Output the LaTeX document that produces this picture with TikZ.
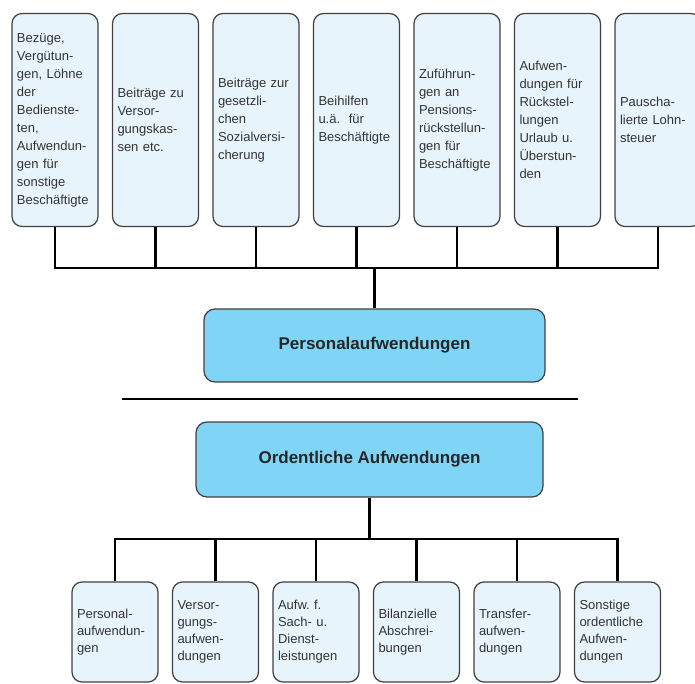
\documentclass[tikz,border=0pt]{standalone}
\usepackage{fontspec}
\setmainfont{Liberation Sans}
\usetikzlibrary{matrix}
\definecolor{boxblue}{HTML}{E8F4FC}
\definecolor{mainblue}{HTML}{80D4F6}
\frenchspacing

\begin{document}
\begin{tikzpicture}[x=1pt,y=-1pt]

\tikzset{box matrix/.style={
    matrix of nodes,
    column sep=13.3pt,
    nodes={draw=black!75,
      fill=boxblue,
      line width=1.2pt,
      rounded corners=10pt,
      minimum height=#1,
      anchor=center,
      text width=76pt,
      align=left,
      inner xsep=5pt,
      inner ysep=0pt,
      text=black!80,
      font=\fontsize{13}{18}\selectfont
    },
  },
  box matrix/.default=213pt,
  main box/.style={draw=black!75, fill=mainblue, line width=1.2pt,
    rounded corners=11pt, text=black!85,
    font=\bfseries\fontsize{17}{20}\selectfont},
  conn/.style={line width=2.8pt}
}

\useasboundingbox (0,0) rectangle (695,684);
\clip (0,0) rectangle (695,684);

\matrix[box matrix] (top) at (356.5,120)
{
{Bezüge,\\Vergütun-\\gen, Löhne\\der\\Bedienste-\\ten,\\Aufwendun-\\gen für\\sonstige\\Beschäftigte} &
{Beiträge zu\\Versor-\\gungskas-\\sen etc.} &
{Beiträge zur\\gesetzli-\\chen\\Sozialversi-\\cherung} &
{Beihilfen\\u.ä.~~für\\Beschäftigte} &
{Zuführun-\\gen an\\Pensions-\\rückstellun-\\gen für\\Beschäftigte} &
{Aufwen-\\dungen für\\Rückstel-\\lungen\\Urlaub u.\\Überstun-\\den} &
{Pauscha-\\lierte Lohn-\\steuer} \\
};

\node[main box, minimum width=341pt, minimum height=73pt] (pers) at (374.5,345.5) {Personalaufwendungen};
\node[main box, minimum width=347pt, minimum height=75pt] (ord) at (369.5,459.5) {Ordentliche Aufwendungen};

\matrix[box matrix=100pt, nodes={font=\fontsize{13}{17}\selectfont}] (bot) at (366.25,632)
{
{Personal-\\aufwendun-\\gen} &
{Versor-\\gungs-\\aufwen-\\dungen} &
{Aufw. f.\\Sach- u.\\Dienst-\\leistungen} &
{Bilanzielle\\Abschrei-\\bungen} &
{Transfer-\\aufwen-\\dungen} &
{Sonstige\\ordentliche\\Aufwen-\\dungen} \\
};

\coordinate (topbus) at (0,268);
\coordinate (botbus) at (0,539);
\coordinate (sepl) at (122,399);
\coordinate (sepr) at (578,399);

\draw[conn] (top-1-1.south) |- (top-1-7.south |- topbus) -- (top-1-7.south);
\foreach \i in {2,...,6}
  \draw[conn] (top-1-\i.south) -- (top-1-\i.south |- topbus);
\draw[conn] (pers.north) -- (pers.north |- topbus);

\draw[line width=2.5pt] (sepl) -- (sepr);

\draw[conn] (ord.south) -- (ord.south |- botbus);
\draw[conn] (bot-1-1.north) |- (bot-1-6.north |- botbus) -- (bot-1-6.north);
\foreach \i in {2,...,5}
  \draw[conn] (bot-1-\i.north) -- (bot-1-\i.north |- botbus);

\end{tikzpicture}
\end{document}
